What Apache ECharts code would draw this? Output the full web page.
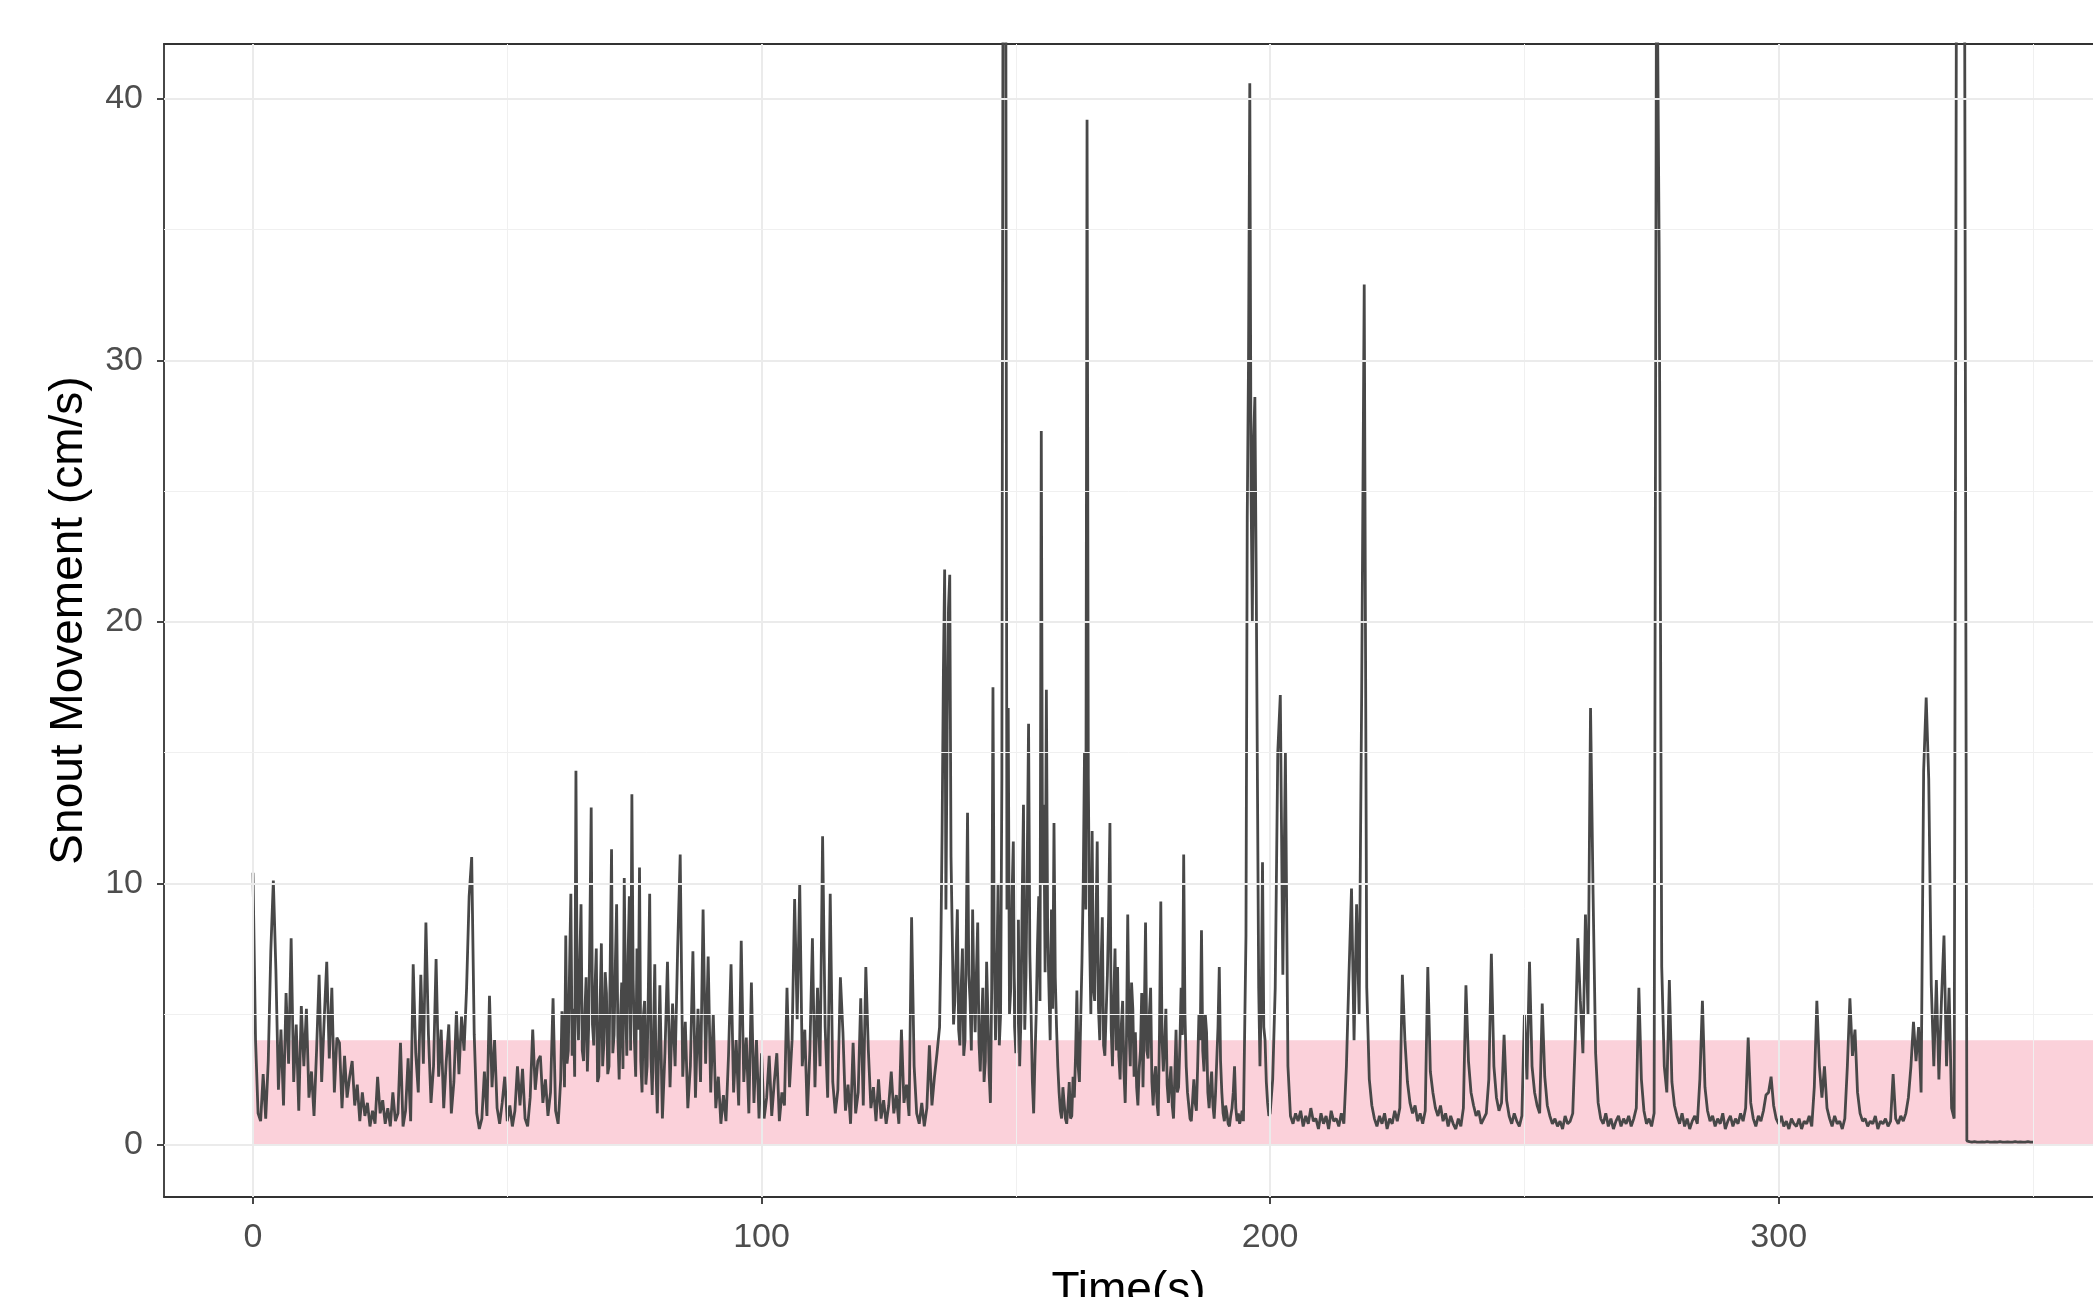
<!DOCTYPE html>
<html>
<head>
<meta charset="utf-8">
<script src="https://cdn.jsdelivr.net/npm/echarts@6/dist/echarts.min.js"></script>
<style>
  html, body { margin: 0; padding: 0; background: #ffffff; }
  #chart { width: 2093px; height: 1297px; }
</style>
</head>
<body>
<div id="chart"></div>
<script>
// snout speed; busy stretches are read at 0.25 s, calm ones at 0.5 s

// 0 - 60 s, every 0.5 s
const speed0to60 = [
  10.4, 4.0, 1.2, 0.9, 2.7, 1.0, 3.2, 7.4, 10.1, 6.7, 2.1, 4.4, 1.5, 5.8, 3.1, 7.9, 2.4, 4.6, 1.3, 5.3,
  3.0, 5.2, 1.8, 2.8, 1.1, 3.6, 6.5, 2.4, 4.8, 7.0, 3.3, 6.0, 2.0, 4.1, 3.9, 1.4, 3.4, 1.8, 2.6, 3.2,
  1.5, 2.3, 0.9, 2.0, 1.1, 1.6, 0.7, 1.3, 0.8, 2.6, 1.2, 1.7, 0.8, 1.4, 0.7, 2.0, 0.9, 1.2, 3.9, 0.7,
  1.3, 3.3, 0.9, 6.9, 3.5, 2.0, 6.5, 3.1, 8.5, 4.2, 1.6, 3.0, 7.1, 2.6, 4.4, 1.4, 3.2, 4.6, 1.2, 2.4,
  5.1, 2.7, 4.9, 3.6, 6.0, 9.5, 11.0, 4.2, 1.2, 0.6, 1.0, 2.8, 1.1, 5.7, 2.2, 4.0, 1.4, 0.8, 1.6, 2.6,
  0.9, 1.5, 0.7, 1.3, 3.0, 1.5, 2.9, 1.0, 0.7, 1.8, 4.4, 2.1, 3.2, 3.4, 1.6, 2.5, 1.1, 2.0, 5.6, 1.3
]

// 60 - 80 s, every 0.25 s
const speed60to80 = [
  0.8, 1.6, 2.5, 5.1, 4.4, 2.2, 8.0, 3.1, 3.6, 6.8, 9.6, 3.4, 5.2, 2.6, 14.3, 5.5, 4.0, 7.0, 9.2, 3.6,
  3.2, 5.0, 6.4, 2.8, 4.5, 8.4, 12.9, 4.6, 3.8, 6.0, 7.5, 2.4, 2.6, 5.3, 7.7, 3.0, 3.9, 6.6, 5.8, 2.7,
  3.0, 7.1, 11.3, 3.5, 4.2, 6.9, 9.2, 4.1, 2.5, 4.8, 6.2, 2.9, 10.2, 5.6, 3.4, 7.2, 9.5, 3.6, 13.4, 6.3,
  4.0, 2.6, 7.5, 4.4, 10.6, 3.2, 2.0, 4.9, 5.5, 2.3, 3.0, 6.1, 9.6, 3.3, 1.9, 4.2, 6.9, 2.8, 1.2, 3.5
]

// 80 - 135 s, every 0.5 s
const speed80to135 = [
  6.1, 1.0, 3.5, 7.0, 2.2, 5.4, 3.0, 7.5, 11.1, 2.6, 4.7, 1.4, 3.0, 7.4, 1.8, 5.2, 2.4, 9.0, 3.1, 7.2,
  2.0, 5.0, 1.4, 2.6, 0.8, 1.9, 0.9, 3.4, 6.9, 2.0, 4.0, 1.5, 7.8, 2.4, 4.1, 1.2, 6.2, 1.6, 4.0, 1.0,
  3.5, 1.0, 1.8, 3.4, 1.1, 2.4, 3.5, 0.9, 2.0, 1.5, 6.0, 2.2, 4.0, 9.4, 4.8, 10.0, 3.0, 4.4, 1.1, 3.6,
  7.9, 2.2, 6.0, 3.0, 11.8, 4.5, 1.8, 9.6, 2.4, 1.2, 2.1, 6.4, 4.3, 1.3, 2.3, 0.8, 3.9, 1.2, 2.0, 5.6,
  1.5, 6.8, 3.6, 1.4, 2.2, 0.9, 2.5, 1.0, 1.7, 0.8, 1.5, 2.8, 1.2, 1.9, 0.8, 4.4, 1.6, 2.3, 1.1, 8.7,
  3.0, 1.2, 0.8, 1.6, 0.7, 1.4, 3.8, 1.5, 2.6, 3.5
]

// 135 - 200 s, every 0.25 s
const speed135to200 = [
  4.5, 7.5, 12.0, 18.0, 22.0, 9.0, 16.0, 20.5, 21.8, 11.0, 8.0, 4.6, 5.5, 7.2, 9.0, 4.4, 3.8, 6.0, 7.5, 3.4,
  4.0, 8.0, 12.7, 6.5, 5.5, 3.6, 9.0, 5.8, 4.3, 6.6, 8.5, 3.9, 2.8, 4.5, 6.0, 2.4, 3.2, 7.0, 5.0, 2.7,
  1.6, 6.0, 17.5, 7.5, 4.0, 6.3, 10.0, 3.8, 5.0, 14.0, 48.0, 48.0, 48.0, 9.0, 16.7, 5.0, 6.0, 9.5, 11.6, 4.5,
  3.5, 5.8, 8.6, 3.0, 4.8, 9.4, 13.0, 4.4, 6.5, 11.0, 16.1, 7.3, 5.0, 2.4, 1.2, 3.2, 5.0, 7.6, 9.5, 5.5,
  27.3, 10.0, 13.0, 6.6, 17.4, 8.2, 6.0, 4.0, 9.0, 5.2, 12.3, 6.4, 4.5, 3.0, 2.0, 1.3, 1.0, 2.2, 1.6, 1.0,
  0.8, 1.5, 2.4, 1.0, 1.1, 2.6, 1.8, 3.5, 5.9, 3.0, 2.4, 4.8, 7.0, 10.0, 15.0, 9.0, 39.2, 14.0, 8.0, 5.0,
  12.0, 6.0, 5.5, 8.4, 11.6, 5.2, 4.0, 6.8, 8.7, 3.8, 3.4, 5.0, 6.5, 8.9, 12.3, 4.4, 3.0, 5.6, 7.5, 3.6,
  6.8, 3.4, 2.5, 4.6, 5.5, 2.8, 1.6, 4.0, 8.8, 4.5, 3.0, 6.2, 5.2, 2.6, 4.3, 2.2, 1.5, 2.9, 3.6, 5.8,
  2.2, 4.8, 8.5, 3.6, 3.3, 5.0, 6.0, 2.4, 1.5, 2.6, 3.0, 1.6, 1.1, 4.4, 9.3, 4.0, 2.8, 3.9, 5.2, 2.3,
  1.6, 2.4, 3.0, 1.5, 1.0, 2.6, 4.4, 2.0, 2.2, 3.8, 6.0, 4.2, 11.1, 5.0, 3.0, 2.0, 1.5, 1.0, 0.9, 1.7,
  2.5, 1.6, 1.3, 3.0, 5.0, 4.0, 8.2, 3.6, 2.8, 5.0, 4.3, 2.0, 1.4, 2.2, 2.8, 1.5, 1.0, 1.9, 3.2, 4.5,
  6.8, 3.2, 2.0, 1.2, 0.9, 1.5, 1.2, 0.8, 0.7, 1.1, 1.4, 2.0, 3.0, 1.4, 0.9, 1.2, 0.8, 1.0, 1.3, 0.9,
  0.9, 8.0, 24.0, 30.0, 40.6, 25.0, 20.0, 27.0, 28.6, 22.0, 14.0, 6.0, 3.0, 5.5, 10.8, 4.5, 4.0, 2.4, 1.6, 1.1
]

// 200 - 350 s, every 0.5 s
const speed200to350 = [
  1.2, 2.5, 6.0, 15.0, 17.2, 6.5, 15.0, 3.0, 1.1, 0.8, 1.2, 0.9, 1.3, 0.7, 1.1, 0.8, 1.4, 0.9, 1.0, 0.6,
  1.2, 0.8, 1.1, 0.6, 1.3, 0.9, 1.0, 0.7, 1.2, 0.8, 3.0, 6.5, 9.8, 4.0, 9.2, 5.0, 17.3, 32.9, 6.0, 2.5,
  1.5, 1.0, 0.7, 1.1, 0.8, 1.2, 0.6, 1.0, 0.8, 1.3, 0.9, 1.4, 6.5, 4.0, 2.4, 1.6, 1.2, 1.5, 0.9, 1.2,
  0.8, 1.3, 6.8, 2.8, 2.0, 1.4, 1.1, 1.5, 0.9, 1.2, 0.7, 1.1, 0.8, 0.6, 1.0, 0.7, 1.4, 6.1, 3.2, 2.0,
  1.5, 1.1, 1.3, 0.8, 1.0, 1.2, 2.5, 7.3, 3.0, 1.8, 1.3, 1.6, 4.2, 1.7, 1.1, 0.8, 1.2, 0.9, 0.7, 1.1,
  5.0, 2.5, 7.0, 3.0, 2.0, 1.5, 1.2, 5.4, 2.6, 1.5, 1.1, 0.8, 1.0, 0.7, 0.9, 0.6, 1.1, 0.8, 0.9, 1.2,
  4.0, 7.9, 5.5, 3.5, 8.8, 5.0, 16.7, 9.6, 3.5, 1.6, 1.0, 0.8, 1.2, 0.7, 1.0, 0.6, 0.9, 1.1, 0.7, 1.0,
  0.8, 1.1, 0.7, 1.0, 1.4, 6.0, 2.5, 1.3, 0.8, 1.0, 0.7, 1.2, 48.0, 34.0, 6.8, 3.0, 2.0, 6.3, 2.4, 1.5,
  1.1, 0.8, 1.2, 0.7, 1.0, 0.6, 0.9, 1.1, 0.8, 2.5, 5.5, 2.2, 1.3, 0.9, 1.1, 0.7, 1.0, 0.8, 1.2, 0.6,
  0.9, 1.1, 0.7, 1.0, 0.8, 1.2, 0.9, 1.4, 4.1, 1.6, 1.0, 0.7, 1.1, 0.9, 1.3, 1.9, 2.0, 2.6, 1.5, 1.0,
  0.8, 1.1, 0.7, 0.9, 0.6, 1.0, 0.8, 0.7, 1.0, 0.6, 0.9, 0.8, 1.1, 0.7, 2.2, 5.5, 3.0, 1.8, 3.0, 1.4,
  1.0, 0.7, 1.1, 0.8, 0.9, 0.6, 1.0, 3.0, 5.6, 3.4, 4.4, 2.0, 1.2, 0.9, 1.0, 0.7, 0.9, 0.8, 1.1, 0.6,
  0.9, 0.8, 1.0, 0.7, 0.9, 2.7, 1.0, 0.8, 1.1, 0.9, 1.2, 1.8, 3.0, 4.7, 3.2, 4.5, 2.0, 14.3, 17.1, 14.0,
  6.1, 3.0, 6.3, 2.5, 5.5, 8.0, 3.0, 6.0, 1.4, 1.0, 50.0, 50.0, 50.0, 50.0, 0.15, 0.12, 0.1, 0.12, 0.1, 0.1,
  0.11, 0.1, 0.12, 0.1, 0.1, 0.11, 0.1, 0.12, 0.1, 0.1, 0.11, 0.1, 0.1, 0.12, 0.1, 0.11, 0.1, 0.1, 0.12, 0.1,
  0.1
]

// start time (s) and sample step (s) of each stretch
const stretchStart = [0, 60, 80, 135, 200]
const stretchStep = [0.5, 0.25, 0.5, 0.25, 0.5]
const stretchValues = [speed0to60, speed60to80, speed80to135, speed135to200, speed200to350]

// shaded reference band (cm/s)
const bandRange = [0, 4]
const bandStart = 0

const xTicks = [0, 100, 200, 300]
const xMinorGrid = [50, 150, 250, 350]
const yTicks = [0, 10, 20, 30, 40]
const yMinorGrid = [5, 15, 25, 35]

// the picture is cropped on the right, so the axis stops at the canvas edge
const xMin = -17.5
const xMax = 361.8
const yMin = -2.0
const yMax = 42.1

const seriesData = []
stretchValues.forEach((vals, s) => {
  vals.forEach((v, i) => {
    seriesData.push([stretchStart[s] + i * stretchStep[s], v])
  })
})

const gridMajor = { color: '#ebebeb', width: 2, type: 'solid' }
const gridMinor = { color: '#f0f0f0', width: 1, type: 'solid' }

const gridLines = []
xTicks.forEach(v => gridLines.push({ xAxis: v, lineStyle: gridMajor }))
xMinorGrid.forEach(v => gridLines.push({ xAxis: v, lineStyle: gridMinor }))
yTicks.forEach(v => gridLines.push({ yAxis: v, lineStyle: gridMajor }))
yMinorGrid.forEach(v => gridLines.push({ yAxis: v, lineStyle: gridMinor }))

const fontFamily = '"Liberation Sans", Arial, sans-serif'
const borderStyle = { color: '#333333', width: 1.8 }

const chart = echarts.init(document.getElementById('chart'), null, { renderer: 'canvas' })

const option = {
  animation: false,
  backgroundColor: '#ffffff',
  grid: {
    left: 164,
    top: 44,
    width: 1929,
    height: 1153,
    containLabel: false,
    outerBoundsMode: 'none',
    show: false
  },
  xAxis: [
    {
      type: 'value',
      min: xMin,
      max: xMax,
      name: 'Time(s)',
      nameLocation: 'middle',
      nameGap: 71,
      nameTextStyle: { color: '#000000', fontSize: 46, fontFamily: fontFamily },
      axisLine: { show: true, onZero: false, lineStyle: borderStyle },
      axisTick: {
        show: true,
        length: 7,
        customValues: xTicks,
        lineStyle: borderStyle
      },
      axisLabel: {
        customValues: xTicks,
        color: '#4d4d4d',
        fontSize: 34,
        fontFamily: fontFamily,
        margin: 24
      },
      splitLine: { show: false }
    },
    {
      // top panel border
      type: 'value',
      position: 'top',
      min: xMin,
      max: xMax,
      axisLine: { show: true, onZero: false, lineStyle: borderStyle },
      axisTick: { show: false },
      axisLabel: { show: false },
      splitLine: { show: false }
    }
  ],
  yAxis: {
    type: 'value',
    min: yMin,
    max: yMax,
    name: 'Snout Movement (cm/s)',
    nameLocation: 'middle',
    nameGap: 72,
    nameRotate: 90,
    nameTextStyle: { color: '#000000', fontSize: 46, fontFamily: fontFamily },
    axisLine: { show: true, onZero: false, lineStyle: borderStyle },
    axisTick: {
      show: true,
      length: 7,
      customValues: yTicks,
      lineStyle: borderStyle
    },
    axisLabel: {
      customValues: yTicks,
      color: '#4d4d4d',
      fontSize: 34,
      fontFamily: fontFamily,
      margin: 21
    },
    splitLine: { show: false }
  },
  series: [
    {
      // panel grid lines
      name: 'grid',
      type: 'line',
      data: [],
      z: 1,
      silent: true,
      markLine: {
        silent: true,
        symbol: ['none', 'none'],
        label: { show: false },
        animation: false,
        data: gridLines
      }
    },
    {
      // pink band
      name: 'band',
      type: 'line',
      data: [],
      z: 2,
      silent: true,
      markArea: {
        silent: true,
        itemStyle: { color: 'rgba(250, 190, 202, 0.7)' },
        data: [[{ xAxis: bandStart, yAxis: bandRange[0] }, { xAxis: xMax, yAxis: bandRange[1] }]]
      }
    },
    {
      name: 'Snout Movement',
      type: 'line',
      data: seriesData,
      z: 3,
      symbol: 'none',
      showSymbol: false,
      clip: true,
      sampling: null,
      lineStyle: { color: '#484848', width: 2.8 }
    }
  ]
}

chart.setOption(option)
</script>
</body>
</html>
